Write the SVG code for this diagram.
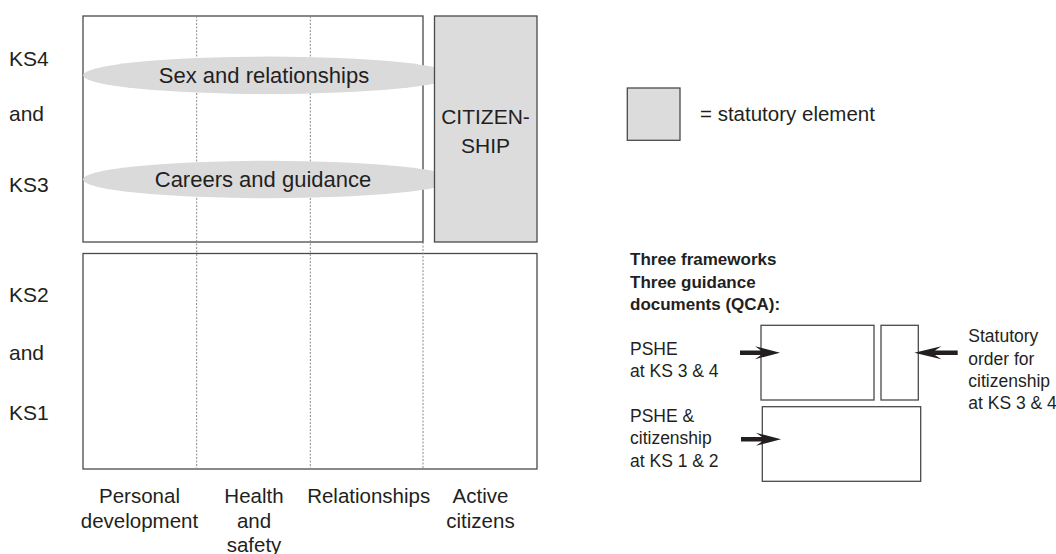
<svg xmlns="http://www.w3.org/2000/svg" xmlns:xlink="http://www.w3.org/1999/xlink" width="1056" height="554" viewBox="0 0 1056 554">
  <style>
    text { font-family: "Liberation Sans", Arial, sans-serif; fill: #231f20; }
    .lbl { font-size: 21px; }
    .col { font-size: 20.5px; text-anchor: middle; }
    .ell { font-size: 22px; text-anchor: middle; }
    .cit { font-size: 21px; text-anchor: middle; }
    .sm { font-size: 17.5px; }
    .bold { font-size: 17px; font-weight: bold; }
    .box { fill: #ffffff; stroke: #4a4a4a; stroke-width: 1.3; }
    .stat { fill: #dcdcdd; stroke: #4a4a4a; stroke-width: 1.3; }
    .oval { fill: #dadadb; stroke: none; }
    .dot { stroke: #8a8a8a; stroke-width: 1; stroke-dasharray: 2 1.5; fill: none; }
    .arrow { fill: #231f20; }
  </style>
  <defs>
    <path id="arr" d="M0,-2.2 H21 L15,-6.5 L40,0 L15,6.5 L21,2.2 H0 Z"/>
  </defs>
  <rect width="1056" height="554" fill="#ffffff"/>

  <g id="ks34-frame">
    <rect class="box" x="83" y="16" width="340" height="226"/>
  </g>
  <g id="ks12-frame">
    <rect class="box" x="83" y="253.5" width="454" height="215.5"/>
  </g>
  <g id="column-dividers">
    <line class="dot" x1="196.7" y1="16" x2="196.7" y2="469"/>
    <line class="dot" x1="310.3" y1="16" x2="310.3" y2="469"/>
    <line class="dot" x1="423" y1="242" x2="423" y2="469"/>
  </g>

  <g id="sex-relationships">
    <ellipse class="oval" cx="268" cy="75.3" rx="185" ry="18.7"/>
    <text class="ell" x="264" y="82.5">Sex and relationships</text>
  </g>
  <g id="careers-guidance">
    <ellipse class="oval" cx="268" cy="179.5" rx="185" ry="18.7"/>
    <text class="ell" x="263" y="186.5">Careers and guidance</text>
  </g>

  <g id="citizenship">
    <rect class="stat" x="434.5" y="16" width="102.5" height="226"/>
    <text class="cit" x="485.5" y="124.3">CITIZEN-</text>
    <text class="cit" x="485.5" y="152.7">SHIP</text>
  </g>

  <g id="stage-labels">
    <text class="lbl" x="9" y="66">KS4</text>
    <text class="lbl" x="9" y="120.7">and</text>
    <text class="lbl" x="9" y="191.7">KS3</text>
    <text class="lbl" x="9" y="302.3">KS2</text>
    <text class="lbl" x="9" y="360">and</text>
    <text class="lbl" x="9" y="420">KS1</text>
  </g>

  <g id="column-labels">
    <text class="col" x="139.5" y="503">Personal</text>
    <text class="col" x="139.5" y="527.5">development</text>
    <text class="col" x="254" y="503">Health</text>
    <text class="col" x="254" y="527.5">and</text>
    <text class="col" x="254" y="551.5">safety</text>
    <text class="col" x="368.7" y="503">Relationships</text>
    <text class="col" x="480.5" y="503">Active</text>
    <text class="col" x="480.5" y="527.5">citizens</text>
  </g>

  <g id="legend">
    <rect class="stat" x="627.3" y="88" width="52.7" height="52.3"/>
    <text class="lbl" x="700" y="121" style="font-size:20.5px">= statutory element</text>
  </g>

  <g id="frameworks-title">
    <text class="bold" x="630" y="265">Three frameworks</text>
    <text class="bold" x="630" y="287.5">Three guidance</text>
    <text class="bold" x="630" y="310">documents (QCA):</text>
  </g>

  <g id="pshe-ks34">
    <rect class="box" x="761" y="325.3" width="113" height="74.7"/>
    <text class="sm" x="630" y="355">PSHE</text>
    <text class="sm" x="630" y="377">at KS 3 &amp; 4</text>
  </g>
  <g id="citizenship-order">
    <rect class="box" x="881" y="325.3" width="37.3" height="74.7"/>
    <text class="sm" x="968.3" y="342.3">Statutory</text>
    <text class="sm" x="968.3" y="364.5">order for</text>
    <text class="sm" x="968.3" y="386.8">citizenship</text>
    <text class="sm" x="968.3" y="409">at KS 3 &amp; 4</text>
  </g>
  <g id="pshe-ks12">
    <rect class="box" x="762.3" y="406.7" width="158.4" height="74.6"/>
    <text class="sm" x="630" y="421.7">PSHE &amp;</text>
    <text class="sm" x="630" y="444.3">citizenship</text>
    <text class="sm" x="630" y="466.7">at KS 1 &amp; 2</text>
  </g>

  <g id="connectors">
    <use xlink:href="#arr" class="arrow" transform="translate(740,352.7)"/>
    <use xlink:href="#arr" class="arrow" transform="translate(957.7,352.7) scale(-1.085,1)"/>
    <use xlink:href="#arr" class="arrow" transform="translate(741,439.3)"/>
  </g>
</svg>
